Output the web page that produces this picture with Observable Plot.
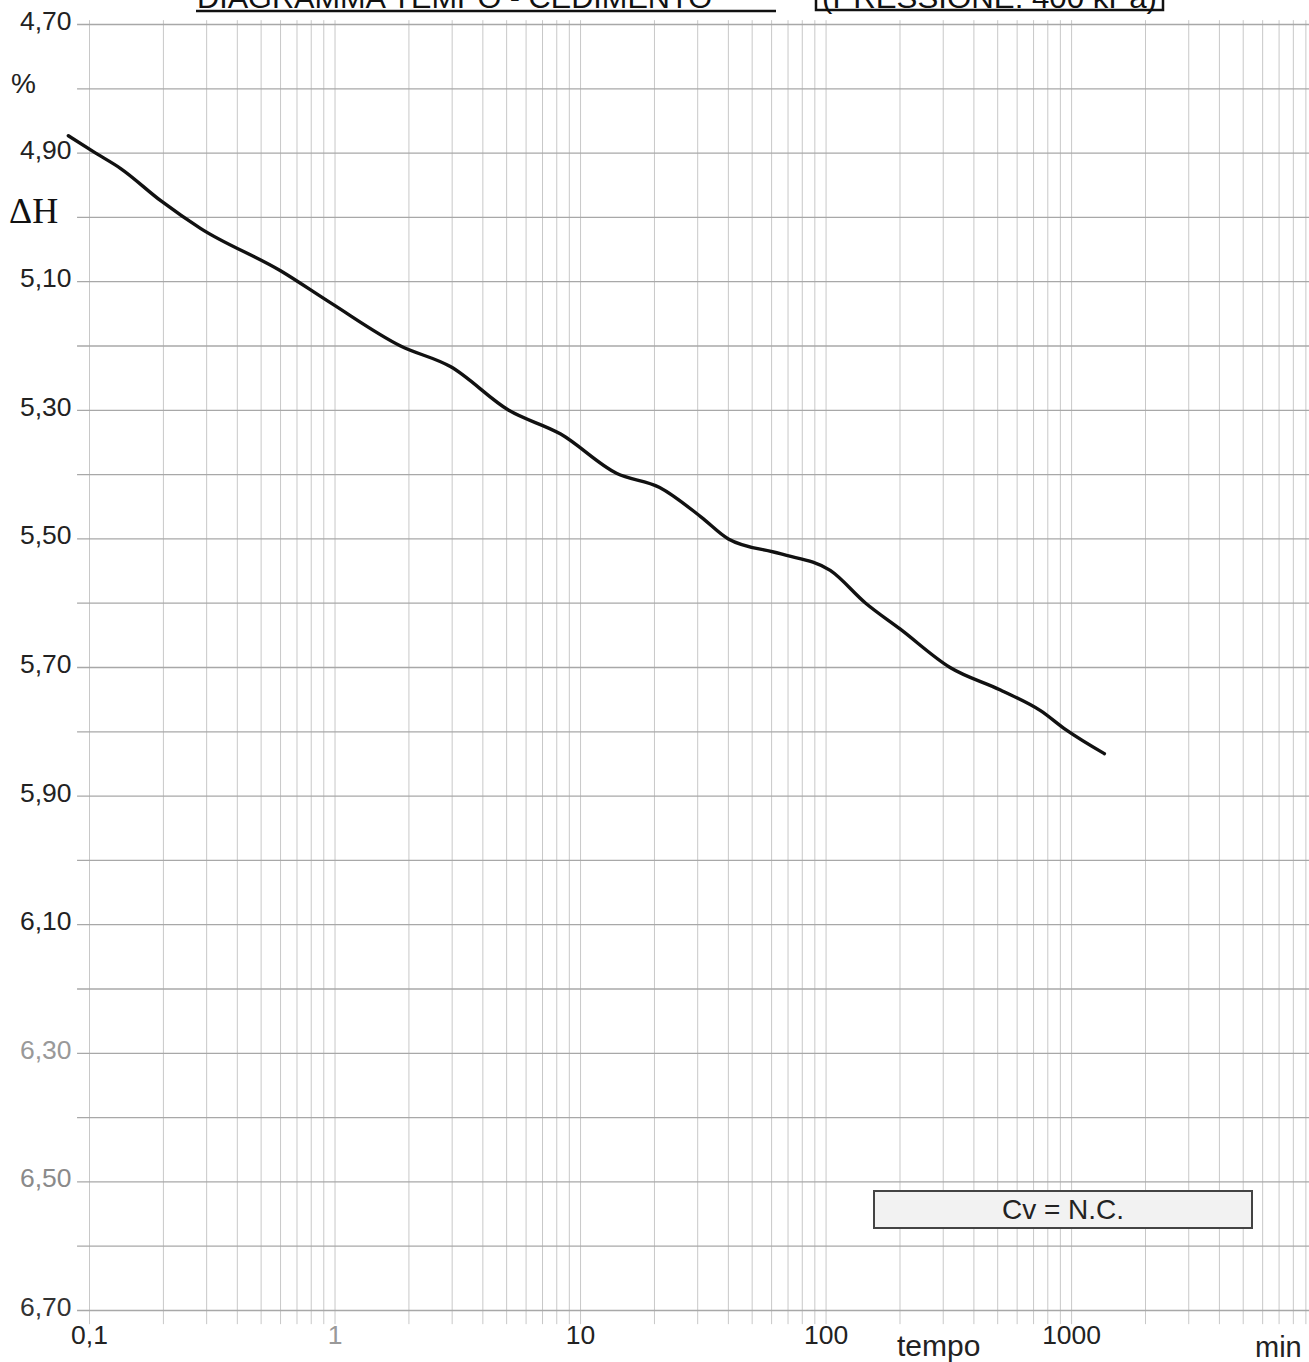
<!DOCTYPE html>
<html><head><meta charset="utf-8">
<script src="https://cdn.jsdelivr.net/npm/d3@7"></script>
<script src="https://cdn.jsdelivr.net/npm/@observablehq/plot@0.6"></script>
<style>
body{margin:0;background:#fff;overflow:hidden}
#wrap{position:relative;width:1309px;height:1362px;overflow:hidden;font-family:"Liberation Sans",Arial,sans-serif;color:#222}
.abs{position:absolute;white-space:nowrap}
#cv{position:absolute;left:873px;top:1190px;width:376px;height:35px;border:2px solid #444;background:#f2f2f2;font-size:28px;line-height:35px;text-align:center;color:#222}
</style>
</head><body><div id="wrap"></div>
<script>
// time (min) and settlement ΔH (%)
const timeMin = [0.082, 0.106, 0.134, 0.195, 0.283, 0.60, 0.96, 1.85, 2.95, 5.1, 8.3, 14, 21, 31, 40, 65, 104, 145, 200, 320, 513, 747, 950, 1360];
const deltaH  = [4.873, 4.900, 4.924, 4.974, 5.017, 5.083, 5.133, 5.200, 5.232, 5.300, 5.337, 5.398, 5.420, 5.466, 5.500, 5.523, 5.549, 5.600, 5.640, 5.700, 5.735, 5.767, 5.797, 5.834];

const yTickValues = [4.7, 4.9, 5.1, 5.3, 5.5, 5.7, 5.9, 6.1, 6.3, 6.5, 6.7];
const yTickLabels = ["4,70", "4,90", "5,10", "5,30", "5,50", "5,70", "5,90", "6,10", "6,30", "6,50", "6,70"];
const yTickColors = ["#222", "#222", "#222", "#222", "#222", "#222", "#222", "#222", "#999", "#8a8a8a", "#333"];
const xTickValues = [0.1, 1, 10, 100, 1000];
const xTickLabels = ["0,1", "1", "10", "100", "1000"];
const xTickColors = ["#222", "#999", "#222", "#222", "#222"];
const gridX = [0.1,0.2,0.3,0.4,0.5,0.6,0.7,0.8,0.9,
  1,2,3,4,5,6,7,8,9,
  10,20,30,40,50,60,70,80,90,
  100,200,300,400,500,600,700,800,900,
  1000,2000,3000,4000,5000,6000,7000,8000,9000];
const gridY = [4.7,4.8,4.9,5.0,5.1,5.2,5.3,5.4,5.5,5.6,5.7,5.8,5.9,6.0,6.1,6.2,6.3,6.4,6.5,6.6,6.7];

const curve = timeMin.map((t, i) => ({t, h: deltaH[i]}));
const yLab = yTickValues.map((v, i) => ({v, label: yTickLabels[i], color: yTickColors[i]}));
const xLab = xTickValues.map((v, i) => ({v, label: xTickLabels[i], color: xTickColors[i]}));

const xMax = 9310;
const chart = Plot.plot({
  width: 1309, height: 1362,
  marginTop: 24, marginBottom: 52, marginLeft: 89, marginRight: 0,
  style: {fontFamily: "'Liberation Sans', Arial, sans-serif", background: "#fff"},
  x: {type: "log", domain: [0.1, xMax], axis: null},
  y: {domain: [4.7, 6.7], reverse: true, axis: null},
  marks: [
    Plot.ruleX(gridX, {x: d => d, y1: 4.694, y2: 6.722, stroke: "#c8c8c8", strokeWidth: 1}),
    Plot.ruleY(gridY, {y: d => d, x1: 0.0894, x2: xMax, stroke: "#a8a8a8", strokeWidth: 1.3}),
    Plot.line(curve, {x: "t", y: "h", curve: "monotone-x", stroke: "#111", strokeWidth: 3.4}),
    Plot.text(yLab, {y: "v", text: "label", fill: "color", frameAnchor: "left", textAnchor: "end", dx: -18, dy: -3, fontSize: 26.5}),
    Plot.text(xLab, {x: "v", text: "label", fill: "color", frameAnchor: "bottom", dy: 33, fontSize: 26.5})
  ]
});
const wrap = document.getElementById("wrap");
chart.style.position = "absolute";
chart.style.left = "0"; chart.style.top = "0";
wrap.appendChild(chart);

// Title (partially cut at the top, as in the scan)
const svgNS = "http://www.w3.org/2000/svg";
const t = document.createElementNS(svgNS, "svg");
t.setAttribute("width", 1309); t.setAttribute("height", 30);
t.style.position = "absolute"; t.style.left = "0"; t.style.top = "0";
t.innerHTML = `
<text x="197" y="8" font-size="29" font-family="Liberation Sans, Arial" fill="#111" textLength="515" lengthAdjust="spacingAndGlyphs">DIAGRAMMA  TEMPO - CEDIMENTO</text>
<line x1="196" y1="11" x2="776" y2="11" stroke="#111" stroke-width="2.5"/>
<text x="822" y="8" font-size="29" font-family="Liberation Sans, Arial" fill="#111" textLength="335" lengthAdjust="spacingAndGlyphs">(PRESSIONE: 400 kPa)</text>
<path d="M816 -5 L816 10 L1163 10 L1163 -5" fill="none" stroke="#111" stroke-width="2.5"/>
`;
wrap.appendChild(t);

function addText(txt, left, top, size, family, color) {
  const d = document.createElement("div");
  d.className = "abs";
  d.textContent = txt;
  d.style.left = left + "px"; d.style.top = top + "px";
  d.style.fontSize = size + "px";
  if (family) d.style.fontFamily = family;
  if (color) d.style.color = color;
  wrap.appendChild(d);
}
addText("%", 11, 68, 28);
addText("ΔH", 9, 190, 36, "'Liberation Serif', 'Times New Roman', serif", "#111");
addText("tempo", 897, 1329, 30);
addText("min", 1255, 1331, 29);

const cv = document.createElement("div");
cv.id = "cv"; cv.textContent = "Cv = N.C.";
wrap.appendChild(cv);
</script>
</body></html>
